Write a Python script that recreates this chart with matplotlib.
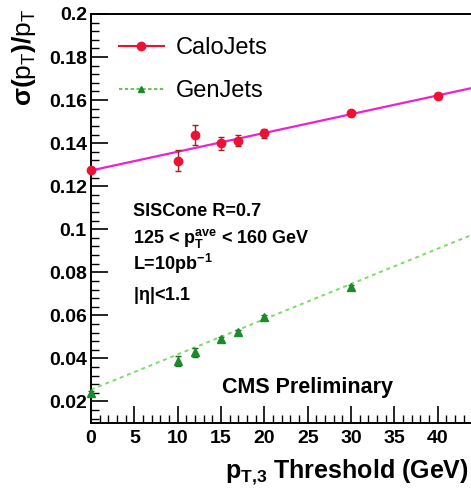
import numpy as np
import matplotlib
matplotlib.use("Agg")
import matplotlib.pyplot as plt
from matplotlib.ticker import MultipleLocator, FixedLocator
from matplotlib.lines import Line2D

plt.rcParams['font.family'] = ['Liberation Sans', 'DejaVu Sans']
plt.rcParams['mathtext.fontset'] = 'custom'
plt.rcParams['mathtext.rm'] = 'Liberation Sans:bold'
plt.rcParams['mathtext.it'] = 'Liberation Sans:bold'
plt.rcParams['mathtext.bf'] = 'Liberation Sans:bold'

# ---- data ----
calo_x = [0, 10, 12, 15, 17, 20, 30, 40]
calo_y = [0.1273, 0.1318, 0.1439, 0.1400, 0.1411, 0.1446, 0.1539, 0.1621]
calo_err = [0.0008, 0.0048, 0.0046, 0.0030, 0.0025, 0.0020, 0.0014, 0.0010]

gen_x = [0, 10, 12, 15, 17, 20, 30]
gen_y = [0.0240, 0.0387, 0.0428, 0.0490, 0.0521, 0.0591, 0.0730]
gen_err = [0.0008, 0.0022, 0.0020, 0.0010, 0.0010, 0.0010, 0.0010]

calo_fit = [0.000872, 0.1273]   # slope, intercept
gen_fit = [0.001637, 0.0255]

x_ticks = [0, 5, 10, 15, 20, 25, 30, 35, 40]
y_ticks = [0.02, 0.04, 0.06, 0.08, 0.1, 0.12, 0.14, 0.16, 0.18, 0.2]
y_tick_labels = ['0.02', '0.04', '0.06', '0.08', '0.1', '0.12', '0.14', '0.16', '0.18', '0.2']

W, H = 471, 498
fig = plt.figure(figsize=(W / 100, H / 100), dpi=100)
left = 91 / W
bottom = 1 - 423 / H
top = 1 - 14 / H
xmax = 45.0
px_per_unit = 8.67
width = xmax * px_per_unit / W
ax = fig.add_axes([left, bottom, width, top - bottom])

xl = np.array([0, xmax])
ax.plot(xl, np.polyval(calo_fit, xl), color='#ee22cc', lw=1.6, zorder=2)
ax.plot(xl, np.polyval(gen_fit, xl), color='#77dd66', lw=1.4, ls=(0, (2, 2)), zorder=2)

ax.errorbar(calo_x, calo_y, yerr=calo_err, fmt='o', color='#ee1133', ms=6,
            ecolor='#992222', elinewidth=1.0, capsize=2.5, capthick=1.0, zorder=3,
            clip_on=False)
ax.errorbar(gen_x, gen_y, yerr=gen_err, fmt='^', color='#1a8a2a', ms=6,
            ecolor='#1a6a1a', elinewidth=1.0, capsize=2.5, capthick=1.0, zorder=3,
            clip_on=False)

ax.set_xlim(0, xmax)
ax.set_ylim(0.01, 0.2)

ax.xaxis.set_major_locator(FixedLocator(x_ticks))
ax.xaxis.set_minor_locator(MultipleLocator(1))
ax.yaxis.set_major_locator(FixedLocator(y_ticks))
ax.set_yticklabels(y_tick_labels)
ax.yaxis.set_minor_locator(MultipleLocator(0.004))

ax.tick_params(axis='both', which='major', direction='in', length=12, width=1.2,
               labelsize=14, top=False, right=False)
ax.tick_params(axis='both', which='minor', direction='in', length=6, width=1.0,
               top=False, right=False)
ax.tick_params(axis='x', which='major', pad=5)
ax.tick_params(axis='y', which='major', pad=3)
for lab in ax.get_xticklabels() + ax.get_yticklabels():
    lab.set_fontweight('bold')
for s in ax.spines.values():
    s.set_linewidth(1.4)

# legend
handles = [
    Line2D([], [], color='#ee1133', lw=1.5, marker='o', ms=6),
    Line2D([], [], color='#44bb33', lw=1.2, ls=(0, (2, 1.5)), marker='^', ms=5, mfc='#1a8a2a', mec='#1a8a2a'),
]
leg = ax.legend(handles, ['CaloJets', 'GenJets'], loc='upper left',
                bbox_to_anchor=(119 / W, 1 - 37 / H), bbox_transform=fig.transFigure,
                frameon=False, fontsize=17, handlelength=1.9, handletextpad=0.5,
                labelspacing=0.9, borderaxespad=0, borderpad=0)

# annotations
fs = 13
def ftext(x, y, s, **kw):
    fig.text(x / W, 1 - y / H, s, **kw)

ftext(133, 212, 'SISCone R=0.7', fontsize=fs, fontweight='bold', va='center')
ftext(133, 238, r'125 < $\mathregular{p_{T}^{ave}}$ < 160 GeV', fontsize=fs, fontweight='bold', va='center')
ftext(133, 264, r'L=10pb$^{\mathregular{-1}}$', fontsize=fs, fontweight='bold', va='center')
ftext(133, 296, r'|$\eta$|<1.1', fontsize=fs, fontweight='bold', va='center')
ftext(222, 387, 'CMS Preliminary', fontsize=15.5, fontweight='bold', va='center')

ftext(469, 472, r'$\mathregular{p_{T{,}3}}$ Threshold (GeV)', fontsize=18, fontweight='bold',
      ha='right', va='center')
ftext(24, 8, r'$\sigma(\mathregular{p_{T}})/\mathregular{p_{T}}$', fontsize=19, rotation=90,
      ha='center', va='top')

fig.savefig('out.png', dpi=100)
